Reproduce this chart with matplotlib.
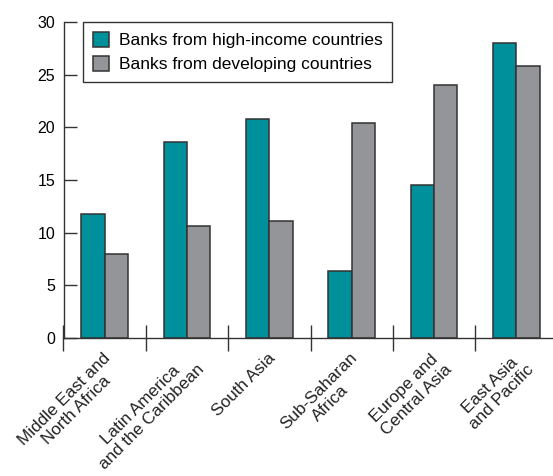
import matplotlib
matplotlib.use("Agg")
import matplotlib.pyplot as plt
import matplotlib.transforms as mtransforms
import numpy as np

# Données
regions = ["Middle East and\nNorth Africa", "Latin America\nand the Caribbean", "South Asia",
           "Sub-Saharan\nAfrica", "Europe and\nCentral Asia", "East Asia\nand Pacific"]
high_income = [11.8, 18.6, 20.8, 6.3, 14.5, 28.0]
developing = [8.0, 10.6, 11.1, 20.4, 24.0, 25.8]
series_names = ["Banks from high-income countries", "Banks from developing countries"]
yticks = [0, 5, 10, 15, 20, 25, 30]

plt.rcParams['font.family'] = ['Liberation Sans', 'DejaVu Sans']
edge = '#333333'

fig = plt.figure(figsize=(5.53, 4.76), dpi=100)
ax = fig.add_axes([63.5 / 553, (476 - 337.7) / 476, 494 / 553, (337.7 - 22.3) / 476])

x = np.arange(len(regions))
w = 0.285
ax.bar(x - w / 2, high_income, w, color='#00909c', edgecolor=edge, linewidth=1.1, label=series_names[0])
ax.bar(x + w / 2, developing, w, color='#939598', edgecolor=edge, linewidth=1.1, label=series_names[1])

ax.set_xlim(-0.5, len(regions) - 0.5)
ax.set_ylim(0, 30)
ax.set_yticks(yticks)
ax.tick_params(axis='y', direction='in', length=9, width=1, color=edge, labelsize=11.5, pad=6)

# séparateurs entre régions (ticks mineurs) et étiquettes sur les ticks majeurs
ax.set_xticks(np.arange(-0.5, len(regions)), minor=True)
ax.tick_params(axis='x', which='minor', direction='inout', length=19, width=1, color=edge)
ax.set_xticks(x)
ax.set_xticklabels(regions, rotation=45, ha='right', va='top', rotation_mode='anchor',
                   multialignment='center', fontsize=12.3, color='#222222', linespacing=1.12)
ax.tick_params(axis='x', which='major', length=0, pad=9)
decal = mtransforms.ScaledTranslation(-2 / 100, 0, fig.dpi_scale_trans)
for lab in ax.get_xticklabels():
    lab.set_transform(lab.get_transform() + decal)

for s in ['top', 'right']:
    ax.spines[s].set_visible(False)
for s in ['left', 'bottom']:
    ax.spines[s].set_color(edge)
    ax.spines[s].set_linewidth(1)
ax.spines['bottom'].set_zorder(3)

leg = ax.legend(loc='upper left', bbox_to_anchor=((83 - 63.5) / 494, 1.0), fontsize=12.5,
                fancybox=False, edgecolor=edge, framealpha=1, handlelength=0.95, handleheight=0.95,
                handletextpad=0.55, borderpad=0.55, labelspacing=0.42, borderaxespad=0)
leg.get_frame().set_linewidth(1)

fig.savefig("out.png", dpi=100)
